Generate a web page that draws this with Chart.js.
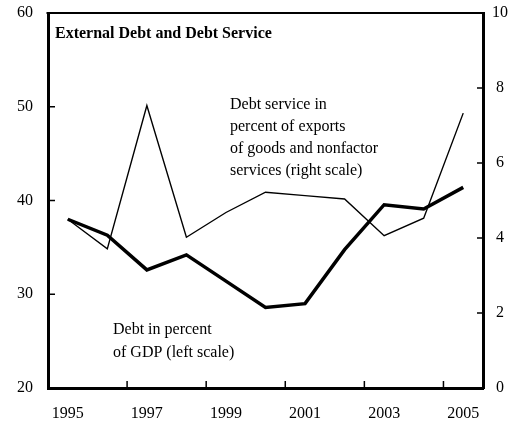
<!DOCTYPE html>
<html>
<head>
<meta charset="utf-8">
<script src="https://cdn.jsdelivr.net/npm/chart.js@4.4.1/dist/chart.umd.min.js"></script>
<style>
  html, body { margin: 0; padding: 0; background: #fff; }
  canvas { display: block; }
</style>
</head>
<body>
<canvas id="debtChart" width="511" height="421"></canvas>
<script>
// data
const years = [1995, 1996, 1997, 1998, 1999, 2000, 2001, 2002, 2003, 2004, 2005];
const debtToGdp = [38.0, 36.3, 32.6, 34.2, 31.4, 28.6, 29.0, 34.75, 39.55, 39.1, 41.4];   // left scale
const debtService = [4.5, 3.71, 7.53, 4.02, 4.68, 5.22, 5.13, 5.04, 4.06, 4.53, 7.33];  // right scale

const yearLabels = [1995, 1997, 1999, 2001, 2003, 2005];
const leftTicks = [20, 30, 40, 50, 60];
const rightTicks = [0, 2, 4, 6, 8, 10];
const xMarks = [1996.5, 1998.5, 2000.5, 2002.5, 2004.5];

const title = "External Debt and Debt Service";
const serviceNote = ["Debt service in", "percent of exports", "of goods and nonfactor", "services (right scale)"];
const debtNote = ["Debt in percent", "of GDP (left scale)"];

const serif = '"Liberation Serif", "Times New Roman", serif';

// top border, inward tick marks and the texts inside the box
const framePlugin = {
  id: 'frame',
  afterDraw(chart) {
    const { ctx, chartArea: a, scales } = chart;
    ctx.save();
    ctx.strokeStyle = '#000';
    ctx.lineWidth = 2;
    ctx.beginPath();
    ctx.moveTo(a.left - 1.5, a.top);
    ctx.lineTo(a.right + 1.5, a.top);
    ctx.stroke();

    ctx.lineWidth = 1.5;
    ctx.beginPath();
    xMarks.forEach(v => {
      const px = scales.x.getPixelForValue(v);
      ctx.moveTo(px, a.bottom);
      ctx.lineTo(px, a.bottom - 7);
    });
    leftTicks.slice(1, -1).forEach(v => {
      const py = scales.y.getPixelForValue(v);
      ctx.moveTo(a.left, py);
      ctx.lineTo(a.left + 7, py);
    });
    rightTicks.slice(1, -1).forEach(v => {
      const py = scales.y1.getPixelForValue(v);
      ctx.moveTo(a.right, py);
      ctx.lineTo(a.right - 6, py);
    });
    ctx.stroke();

    ctx.fillStyle = '#000';
    ctx.textBaseline = 'alphabetic';
    ctx.textAlign = 'left';
    ctx.font = 'bold 16px ' + serif;
    ctx.fillText(title, a.left + 7, a.top + 25);
    ctx.font = '16px ' + serif;
    serviceNote.forEach((t, i) => ctx.fillText(t, a.left + 182, a.top + 96 + i * 22));
    debtNote.forEach((t, i) => ctx.fillText(t, a.left + 65, a.top + 321 + i * 22.5));
    ctx.restore();
  }
};

// fixed axis sizes so the plot box lands where it is in the picture
const fitVertical = w => scale => {
  scale.width = w;
  scale.paddingTop = 0;
  scale.paddingBottom = 0;
};

const ctx = document.getElementById('debtChart').getContext('2d');
const chart = new Chart(ctx, {
  type: 'line',
  data: {
    datasets: [
      {
        label: 'Debt in percent of GDP',
        data: years.map((y, i) => ({ x: y, y: debtToGdp[i] })),
        yAxisID: 'y',
        borderColor: '#000',
        borderWidth: 3.5,
        borderJoinStyle: 'miter',
        pointRadius: 0,
        tension: 0
      },
      {
        label: 'Debt service',
        data: years.map((y, i) => ({ x: y, y: debtService[i] })),
        yAxisID: 'y1',
        borderColor: '#000',
        borderWidth: 1.4,
        borderJoinStyle: 'miter',
        pointRadius: 0,
        tension: 0
      }
    ]
  },
  options: {
    responsive: false,
    animation: false,
    devicePixelRatio: 1,
    layout: { padding: { top: 13, left: 0, right: 0, bottom: 0 } },
    plugins: {
      legend: { display: false },
      title: { display: false },
      tooltip: { enabled: false }
    },
    scales: {
      x: {
        type: 'linear',
        min: 1994.5,
        max: 2005.5,
        afterBuildTicks: scale => { scale.ticks = yearLabels.map(v => ({ value: v })); },
        afterFit: scale => {
          scale.height = 33;
          scale.paddingLeft = 0;
          scale.paddingRight = 0;
        },
        grid: { display: false, drawTicks: false },
        border: { display: true, color: '#000', width: 3 },
        ticks: {
          color: '#000',
          font: { family: serif, size: 16 },
          padding: 16,
          maxRotation: 0,
          autoSkip: false,
          callback: v => String(v)
        }
      },
      y: {
        position: 'left',
        min: 20,
        max: 60,
        afterBuildTicks: scale => { scale.ticks = leftTicks.map(v => ({ value: v })); },
        afterFit: fitVertical(48),
        grid: { display: false, drawTicks: false },
        border: { display: true, color: '#000', width: 3 },
        ticks: { color: '#000', font: { family: serif, size: 16 }, padding: 15 }
      },
      y1: {
        position: 'right',
        min: 0,
        max: 10,
        afterBuildTicks: scale => { scale.ticks = rightTicks.map(v => ({ value: v })); },
        afterFit: fitVertical(28),
        grid: { display: false, drawTicks: false },
        border: { display: true, color: '#000', width: 3 },
        ticks: { color: '#000', font: { family: serif, size: 16 }, padding: 9, crossAlign: 'center' }
      }
    }
  },
  plugins: [framePlugin]
});
</script>
</body>
</html>
